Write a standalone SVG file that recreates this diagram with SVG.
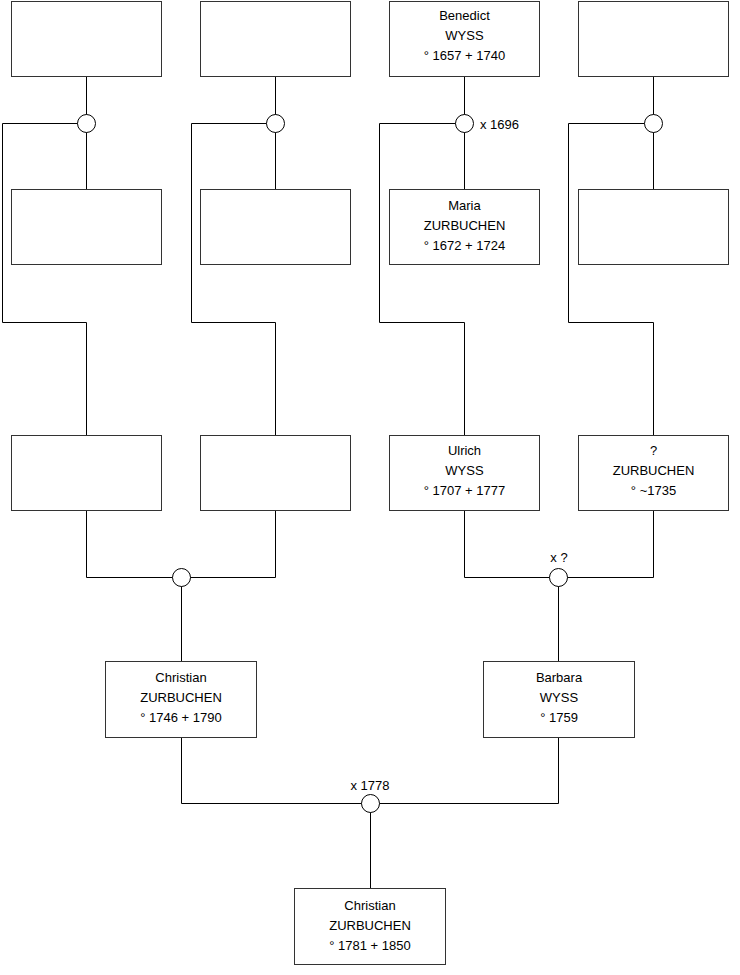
<svg xmlns="http://www.w3.org/2000/svg" width="740" height="975" viewBox="0 0 740 975">
<style>
.box{fill:#fff;stroke:#333;stroke-width:1}
.ln{fill:none;stroke:#000;stroke-width:1}
.ring{fill:#fff;stroke:#000;stroke-width:1}
text{font-family:"Liberation Sans",Arial,sans-serif;font-size:13px;fill:#000;text-anchor:middle}
</style>
<rect width="740" height="975" fill="#fff"/>
<g id="connectors">
<path class="ln" d="M86.5 76V123.5M86.5 123.5V189M2.5 123.5H86.5M2.5 123.5V322.5H86.5V435"/>
<path class="ln" d="M275.5 76V189M191.5 123.5H275.5M191.5 123.5V322.5H275.5V435"/>
<path class="ln" d="M464.5 76V189M379.5 123.5H464.5M379.5 123.5V322.5H464.5V435"/>
<path class="ln" d="M653.5 76V189M568.5 123.5H653.5M568.5 123.5V322.5H653.5V435"/>
<path class="ln" d="M86.5 510V577.5H275.5V510M181.5 577.5V661"/>
<path class="ln" d="M464.5 510V577.5H653.5V510M558.5 577.5V661"/>
<path class="ln" d="M181.5 737V803.5H558.5V737M370.5 803.5V888"/>
<circle class="ring" cx="86.5" cy="123.5" r="9"/>
<circle class="ring" cx="275.5" cy="123.5" r="9"/>
<circle class="ring" cx="464.5" cy="123.5" r="9"/>
<circle class="ring" cx="653.5" cy="123.5" r="9"/>
<circle class="ring" cx="181.5" cy="577.5" r="9"/>
<circle class="ring" cx="558.5" cy="577.5" r="9"/>
<circle class="ring" cx="370.5" cy="803.5" r="9"/>
<text x="499.5" y="128.5">x 1696</text>
<text x="559" y="562">x ?</text>
<text x="370" y="790">x 1778</text>
</g>
<g id="n1"><rect class="box" x="11.5" y="1.5" width="150" height="75"/></g>
<g id="n2"><rect class="box" x="200.5" y="1.5" width="150" height="75"/></g>
<g id="n3"><rect class="box" x="389.5" y="1.5" width="150" height="75"/><text x="464.5" y="20">Benedict</text><text x="464.5" y="40">WYSS</text><text x="464.5" y="60">° 1657 + 1740</text></g>
<g id="n4"><rect class="box" x="578.5" y="1.5" width="150" height="75"/></g>
<g id="n5"><rect class="box" x="11.5" y="189.5" width="150" height="75"/></g>
<g id="n6"><rect class="box" x="200.5" y="189.5" width="150" height="75"/></g>
<g id="n7"><rect class="box" x="389.5" y="189.5" width="150" height="75"/><text x="464.5" y="210">Maria</text><text x="464.5" y="230">ZURBUCHEN</text><text x="464.5" y="250">° 1672 + 1724</text></g>
<g id="n8"><rect class="box" x="578.5" y="189.5" width="150" height="75"/></g>
<g id="n9"><rect class="box" x="11.5" y="435.5" width="150" height="75"/></g>
<g id="n10"><rect class="box" x="200.5" y="435.5" width="150" height="75"/></g>
<g id="n11"><rect class="box" x="389.5" y="435.5" width="150" height="75"/><text x="464.5" y="455">Ulrich</text><text x="464.5" y="475">WYSS</text><text x="464.5" y="495">° 1707 + 1777</text></g>
<g id="n12"><rect class="box" x="578.5" y="435.5" width="150" height="75"/><text x="653.5" y="455">?</text><text x="653.5" y="475">ZURBUCHEN</text><text x="653.5" y="495">° ~1735</text></g>
<g id="n13"><rect class="box" x="105.5" y="661.5" width="151" height="76"/><text x="181" y="682">Christian</text><text x="181" y="702">ZURBUCHEN</text><text x="181" y="722">° 1746 + 1790</text></g>
<g id="n14"><rect class="box" x="483.5" y="661.5" width="151" height="76"/><text x="559" y="682">Barbara</text><text x="559" y="702">WYSS</text><text x="559" y="722">° 1759</text></g>
<g id="n15"><rect class="box" x="294.5" y="888.5" width="151" height="76"/><text x="370" y="910">Christian</text><text x="370" y="930">ZURBUCHEN</text><text x="370" y="950">° 1781 + 1850</text></g>
</svg>
